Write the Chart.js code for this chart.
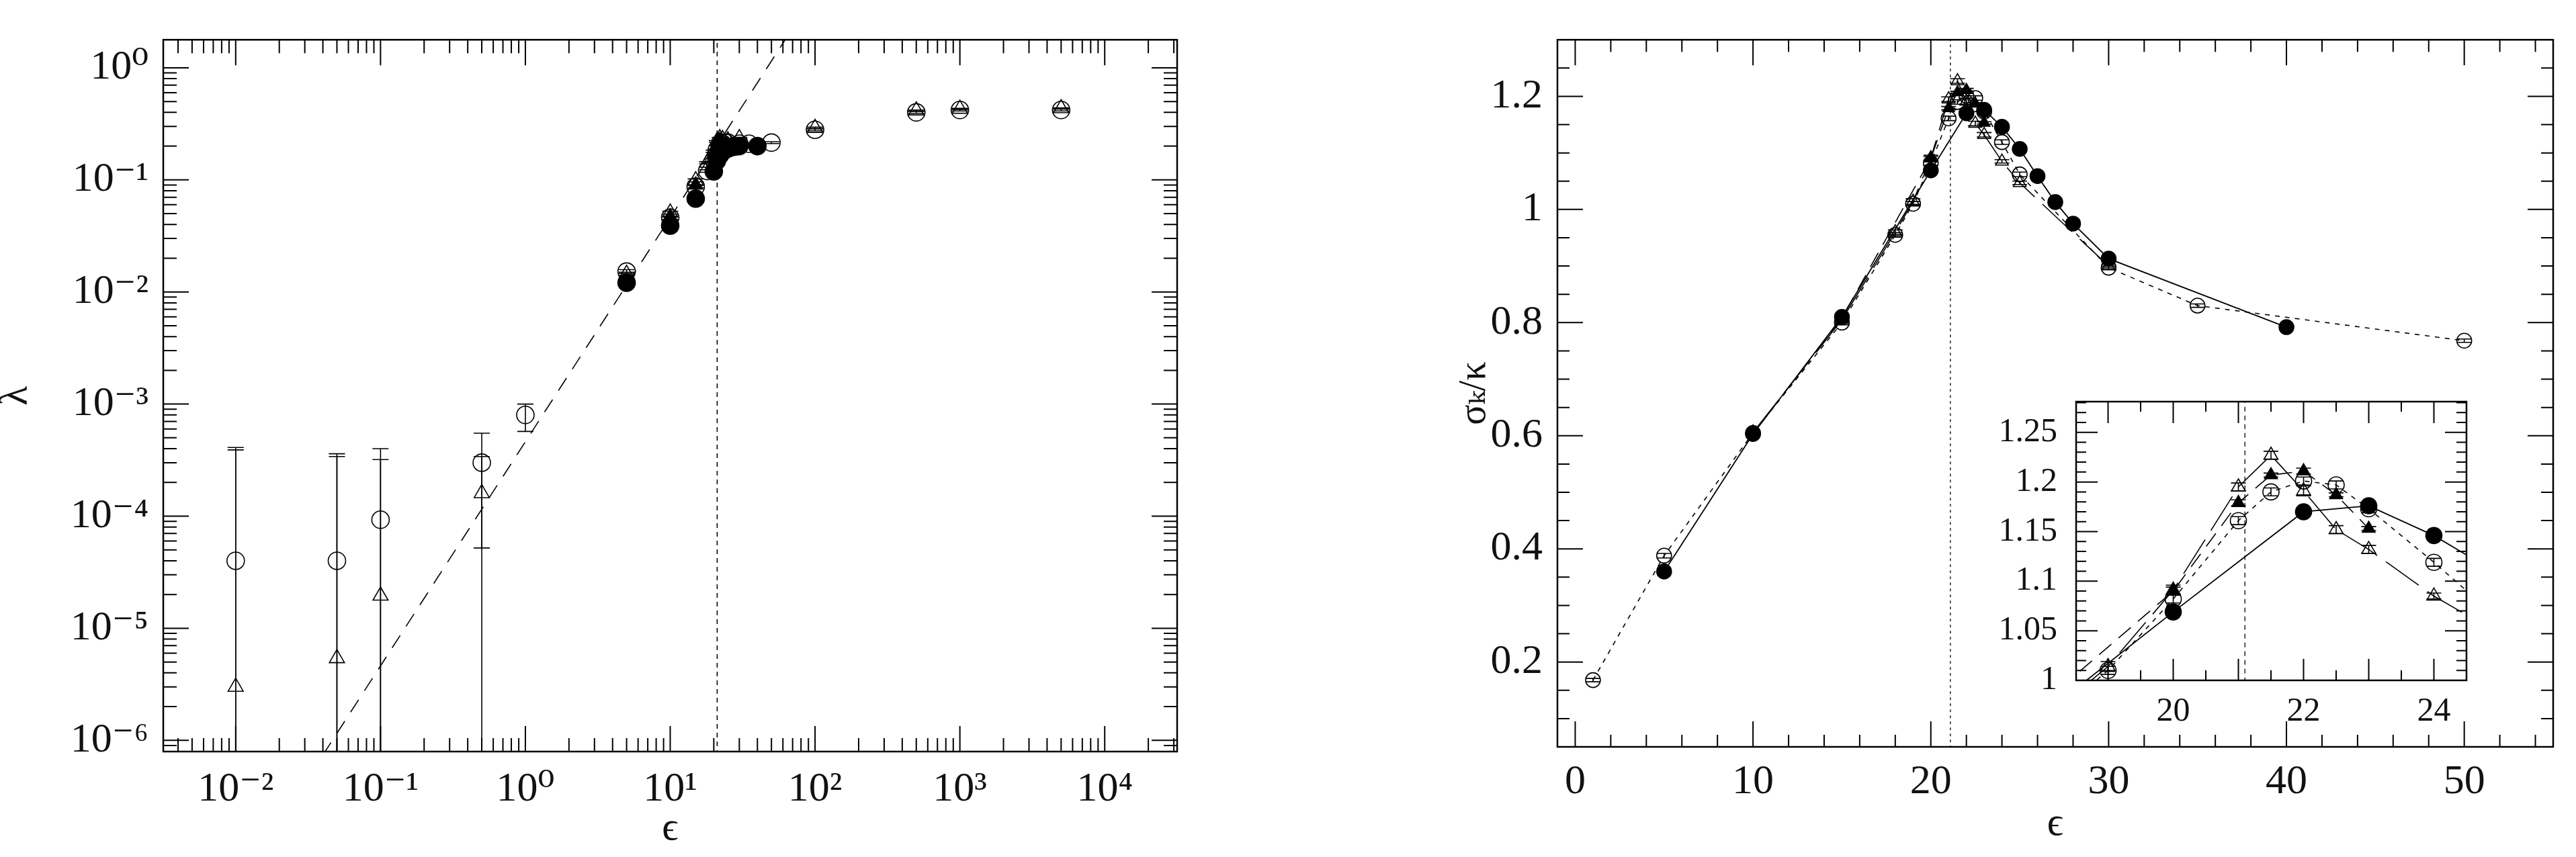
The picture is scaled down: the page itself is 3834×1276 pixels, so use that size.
<!DOCTYPE html>
<html>
<head>
<meta charset="utf-8">
<script src="https://cdn.jsdelivr.net/npm/chart.js@4.4.1/dist/chart.umd.min.js"></script>
<style>
html, body { margin: 0; padding: 0; background: #fff; }
#wrap { position: relative; width: 3834px; height: 1276px; overflow: hidden; }
canvas { position: absolute; }
</style>
</head>
<body>
<div id="wrap">
  <canvas id="lam" width="1800" height="1276" style="left:0;top:0"></canvas>
  <canvas id="sig" width="1669" height="1276" style="left:2165px;top:0"></canvas>
  <canvas id="ins" width="750" height="580" style="left:2940px;top:540px"></canvas>
</div>
<script>
// ---- left panel: lambda vs epsilon (log-log) ----
var lamCircEps = [0.01, 0.05, 0.1, 0.5, 1, 5, 10, 15, 18, 20, 21, 22, 23, 24, 25, 30, 35, 50, 100, 500, 1000, 5000];
var lamCircVal = [4.0e-5, 4.0e-5, 9.3e-5, 3.0e-4, 8.0e-4, 0.0152, 0.046, 0.087, 0.12, 0.15, 0.185, 0.2, 0.21, 0.215, 0.215, 0.21, 0.21, 0.215, 0.28, 0.40, 0.42, 0.42];
var lamCircLo  = [1e-9, 1e-9, 1e-9, 5.2e-5, 5.7e-4, 0.0146, 0.0445, 0.085, 0.117, 0.147, 0.181, 0.196, 0.206, 0.211, 0.211, 0.206, 0.206, 0.211, 0.274, 0.392, 0.412, 0.412];
var lamCircHi  = [4.1e-4, 3.6e-4, 4.0e-4, 5.5e-4, 1.0e-3, 0.0158, 0.0475, 0.089, 0.123, 0.153, 0.189, 0.204, 0.214, 0.219, 0.219, 0.214, 0.214, 0.219, 0.286, 0.408, 0.428, 0.428];

var lamTriEps = [0.01, 0.05, 0.1, 0.5, 5, 10, 15, 18, 20, 21, 22, 23, 25, 30, 100, 500, 1000, 5000];
var lamTriVal = [3.0e-6, 5.4e-6, 1.95e-5, 1.6e-4, 0.0145, 0.051, 0.099, 0.142, 0.18, 0.22, 0.235, 0.23, 0.225, 0.235, 0.29, 0.415, 0.43, 0.435];
var lamTriLo  = [1e-9, 1e-9, 1e-9, 1e-9, 0.014, 0.0495, 0.096, 0.139, 0.176, 0.216, 0.231, 0.226, 0.221, 0.231, 0.285, 0.41, 0.425, 0.43];
var lamTriHi  = [3.9e-4, 3.4e-4, 3.2e-4, 3.4e-4, 0.015, 0.0525, 0.102, 0.145, 0.184, 0.224, 0.239, 0.234, 0.229, 0.239, 0.295, 0.42, 0.435, 0.44];

var lamDotEps = [5, 10, 15, 20, 21, 22, 23, 24, 25, 26, 27, 28, 30, 40];
var lamDotVal = [0.0121, 0.039, 0.068, 0.119, 0.148, 0.165, 0.178, 0.186, 0.19, 0.195, 0.197, 0.198, 0.2, 0.2];

var lamFtriEps = [10, 15, 20, 21, 21.5, 22, 22.5, 23];
var lamFtriVal = [0.047, 0.09, 0.17, 0.2, 0.22, 0.225, 0.22, 0.215];

var fitEps = [0.04, 80];
var fitLam = [7.4e-7, 2.94];
var epsCrit = 21.1;

var logXTicks = [1e-2, 1e-1, 1, 10, 100, 1000, 10000];
var logYTicks = [1e-6, 1e-5, 1e-4, 1e-3, 1e-2, 1e-1, 1];

// ---- right panel: sigma_k / kappa vs epsilon ----
var sigCircEps = [1, 5, 10, 15, 18, 19, 20, 21, 21.5, 22, 22.5, 23, 24, 25, 30, 35, 50];
var sigCircVal = [0.168, 0.388, 0.605, 0.800, 0.955, 1.010, 1.082, 1.161, 1.190, 1.201, 1.197, 1.173, 1.119, 1.062, 0.897, 0.830, 0.768];
var sigCircErr = [0.003, 0.004, 0.003, 0.004, 0.004, 0.004, 0.004, 0.004, 0.004, 0.004, 0.004, 0.004, 0.004, 0.004, 0.003, 0.003, 0.003];

var sigDotEps = [5, 10, 15, 20, 22, 23, 24, 25, 26, 27, 28, 30, 40];
var sigDotVal = [0.360, 0.603, 0.810, 1.069, 1.170, 1.176, 1.146, 1.107, 1.059, 1.013, 0.975, 0.913, 0.792];

var sigTriEps = [10, 15, 18, 19, 20, 21, 21.5, 22, 22.5, 23, 24, 25, 30];
var sigTriVal = [0.606, 0.805, 0.960, 1.014, 1.091, 1.195, 1.227, 1.191, 1.152, 1.132, 1.085, 1.047, 0.900];
var sigTriErr = [0.003, 0.004, 0.004, 0.005, 0.005, 0.004, 0.004, 0.005, 0.004, 0.004, 0.003, 0.003, 0.003];

var sigFtriEps = [10, 15, 20, 21, 21.5, 22, 22.5, 23];
var sigFtriVal = [0.604, 0.808, 1.090, 1.179, 1.207, 1.211, 1.187, 1.153];
var sigFtriErr = [0.003, 0.004, 0.004, 0.003, 0.002, 0.003, 0.002, 0.002];

var linXTicks = [0, 10, 20, 30, 40, 50];
var linYTicks = [0.2, 0.4, 0.6, 0.8, 1, 1.2];
var insXTicks = [20, 22, 24];
var insYTicks = [1, 1.05, 1.1, 1.15, 1.2, 1.25];

Chart.defaults.font.family = '"Liberation Serif", "DejaVu Serif", serif';
Chart.defaults.color = '#111';

function pts(xs, ys) {
    return xs.map(function (x, i) { return {x: x, y: ys[i]}; });
}

var sup = {'-': '\u207B', '0': '\u2070', '1': '\u00B9', '2': '\u00B2', '3': '\u00B3',
    '4': '\u2074', '5': '\u2075', '6': '\u2076', '7': '\u2077', '8': '\u2078', '9': '\u2079'};
function powLabel(v) {
    var e = String(Math.round(Math.log10(v)));
    return '10' + e.split('').map(function (c) { return sup[c]; }).join('');
}

function logMinor(lo, hi) {
    var out = [];
    for (var d = Math.floor(Math.log10(lo)); d <= Math.ceil(Math.log10(hi)); d++) {
        for (var m = 2; m <= 9; m++) out.push(m * Math.pow(10, d));
    }
    return out;
}
function steps(lo, hi, step) {
    var out = [];
    for (var i = Math.ceil(lo / step - 1e-6); i * step <= hi + 1e-9; i++) out.push(+(i * step).toFixed(6));
    return out;
}

// frame with inward ticks on all four sides
var framePlugin = {
    id: 'frame',
    afterDraw: function (chart, args, o) {
        var ctx = chart.ctx, a = chart.chartArea, xs = chart.scales.x, ys = chart.scales.y;
        ctx.save();
        ctx.strokeStyle = '#000';
        ctx.lineWidth = 2;
        ctx.beginPath();
        function xt(list, len) {
            list.forEach(function (v) {
                var p = xs.getPixelForValue(v);
                if (p < a.left + 1 || p > a.right - 1) return;
                ctx.moveTo(p, a.bottom); ctx.lineTo(p, a.bottom - len);
                ctx.moveTo(p, a.top); ctx.lineTo(p, a.top + len);
            });
        }
        function yt(list, len) {
            list.forEach(function (v) {
                var p = ys.getPixelForValue(v);
                if (p < a.top + 1 || p > a.bottom - 1) return;
                ctx.moveTo(a.left, p); ctx.lineTo(a.left + len, p);
                ctx.moveTo(a.right, p); ctx.lineTo(a.right - len, p);
            });
        }
        xt(o.xMinor, o.minLen); xt(o.xMajor, o.majLen);
        yt(o.yMinor, o.minLen); yt(o.yMajor, o.majLen);
        ctx.stroke();
        ctx.lineWidth = 2.5;
        ctx.strokeRect(a.left, a.top, a.right - a.left, a.bottom - a.top);
        ctx.restore();
    }
};

// vertical error bars with caps
var errPlugin = {
    id: 'errbars',
    afterDatasetsDraw: function (chart) {
        var ctx = chart.ctx, a = chart.chartArea, xs = chart.scales.x, ys = chart.scales.y;
        ctx.save();
        ctx.beginPath();
        ctx.rect(a.left, a.top, a.right - a.left, a.bottom - a.top);
        ctx.clip();
        ctx.strokeStyle = '#000';
        ctx.lineWidth = 1.6;
        chart.data.datasets.forEach(function (ds) {
            if (!ds.errLo) return;
            var w = ds.capW || 11;
            ctx.beginPath();
            ds.data.forEach(function (p, j) {
                var px = xs.getPixelForValue(p.x);
                var y1 = ys.getPixelForValue(ds.errLo[j]), y2 = ys.getPixelForValue(ds.errHi[j]);
                ctx.moveTo(px, y1); ctx.lineTo(px, y2);
                ctx.moveTo(px - w, y1); ctx.lineTo(px + w, y1);
                ctx.moveTo(px - w, y2); ctx.lineTo(px + w, y2);
            });
            ctx.stroke();
        });
        ctx.restore();
    }
};

function marker(style, filled, r) {
    return {
        pointStyle: style, pointRadius: r, pointHoverRadius: r,
        pointBorderColor: '#000', pointBorderWidth: 1.6,
        pointBackgroundColor: filled ? '#000' : 'rgba(0,0,0,0)'
    };
}
function withErr(ds, vals, errs, capW) {
    ds.errLo = vals.map(function (v, i) { return v - errs[i]; });
    ds.errHi = vals.map(function (v, i) { return v + errs[i]; });
    ds.capW = capW;
    return ds;
}
function fixed(w) { return function (s) { s.width = w; }; }
function fixedH(h) { return function (s) { s.height = h; }; }

// ---------- left chart ----------
var lamSets = [
    Object.assign({data: pts(lamDotEps, lamDotVal), showLine: false}, marker('circle', true, 13)),
    Object.assign({data: pts(lamFtriEps, lamFtriVal), showLine: false}, marker('triangle', true, 12)),
    Object.assign({data: pts(lamTriEps, lamTriVal), showLine: false, errLo: lamTriLo, errHi: lamTriHi, capW: 12}, marker('triangle', false, 13)),
    Object.assign({data: pts(lamCircEps, lamCircVal), showLine: false, errLo: lamCircLo, errHi: lamCircHi, capW: 12}, marker('circle', false, 13)),
    {data: pts(fitEps, fitLam), showLine: true, pointRadius: 0, borderColor: '#000', borderWidth: 1.6, borderDash: [22, 16]},
    {data: [{x: epsCrit, y: 1e-8}, {x: epsCrit, y: 10}], showLine: true, pointRadius: 0, borderColor: '#000', borderWidth: 1.6, borderDash: [7, 6]}
];

new Chart(document.getElementById('lam'), {
    type: 'scatter',
    data: {datasets: lamSets},
    plugins: [errPlugin, framePlugin],
    options: {
        responsive: false,
        animation: false,
        events: [],
        layout: {padding: {top: 33, right: 48, left: 0, bottom: 0}},
        plugins: {
            legend: {display: false},
            tooltip: {enabled: false},
            frame: {
                xMajor: logXTicks, xMinor: logMinor(1e-3, 1e5),
                yMajor: logYTicks, yMinor: logMinor(1e-7, 10),
                majLen: 38, minLen: 20
            }
        },
        scales: {
            x: {
                type: 'logarithmic', min: Math.pow(10, -2.5), max: Math.pow(10, 4.5),
                grid: {display: false, drawTicks: false}, border: {display: false},
                afterBuildTicks: function (s) { s.ticks = logXTicks.map(function (v) { return {value: v}; }); },
                afterFit: fixedH(157),
                ticks: {font: {size: 62}, padding: 20, maxRotation: 0, callback: powLabel},
                title: {display: true, text: '\u03F5', font: {size: 60, lineHeight: 1}, padding: {top: 0, bottom: 12}}
            },
            y: {
                type: 'logarithmic', min: Math.pow(10, -6.1), max: Math.pow(10, 0.25),
                grid: {display: false, drawTicks: false}, border: {display: false},
                afterBuildTicks: function (s) { s.ticks = logYTicks.map(function (v) { return {value: v}; }); },
                afterFit: fixed(243),
                ticks: {font: {size: 62}, padding: 22, callback: powLabel},
                title: {display: true, text: '\u03BB', font: {size: 60, lineHeight: 1}, padding: {top: -6, bottom: 0}}
            }
        }
    }
});

// ---------- right chart + inset ----------
function sigSets(big) {
    var r = big ? 11 : 12;
    return [
        withErr(Object.assign({data: pts(sigFtriEps, sigFtriVal), showLine: true, borderColor: '#000', borderWidth: 1.6, borderDash: [24, 14]}, marker('triangle', true, r - 1)), sigFtriVal, sigFtriErr, 11),
        withErr(Object.assign({data: pts(sigTriEps, sigTriVal), showLine: true, borderColor: '#000', borderWidth: 1.6, borderDash: [60, 16]}, marker('triangle', false, r)), sigTriVal, sigTriErr, 11),
        withErr(Object.assign({data: pts(sigCircEps, sigCircVal), showLine: true, borderColor: '#000', borderWidth: 1.6, borderDash: [7, 8]}, marker('circle', false, r)), sigCircVal, sigCircErr, 11),
        Object.assign({data: pts(sigDotEps, sigDotVal), showLine: true, borderColor: '#000', borderWidth: 1.8}, marker('circle', true, r)),
        {data: [{x: epsCrit, y: -1}, {x: epsCrit, y: 2}], showLine: true, pointRadius: 0, borderColor: '#000', borderWidth: 1.3, borderDash: big ? [4, 5] : [7, 6]}
    ];
}

new Chart(document.getElementById('sig'), {
    type: 'scatter',
    data: {datasets: sigSets(true)},
    plugins: [errPlugin, framePlugin],
    options: {
        responsive: false,
        animation: false,
        events: [],
        layout: {padding: {top: 43, right: 34, left: 0, bottom: 0}},
        plugins: {
            legend: {display: false},
            tooltip: {enabled: false},
            frame: {
                xMajor: linXTicks, xMinor: steps(-1, 55, 2),
                yMajor: linYTicks, yMinor: steps(0.05, 1.3, 0.05),
                majLen: 38, minLen: 18
            }
        },
        scales: {
            x: {
                type: 'linear', min: -1, max: 55,
                grid: {display: false, drawTicks: false}, border: {display: false},
                afterBuildTicks: function (s) { s.ticks = linXTicks.map(function (v) { return {value: v}; }); },
                afterFit: fixedH(164),
                ticks: {font: {size: 62}, padding: 16, maxRotation: 0, callback: function (v) { return String(v); }},
                title: {display: true, text: '\u03F5', font: {size: 60, lineHeight: 1}, padding: {top: 0, bottom: 19}}
            },
            y: {
                type: 'linear', min: 0.05, max: 1.3,
                grid: {display: false, drawTicks: false}, border: {display: false},
                afterBuildTicks: function (s) { s.ticks = linYTicks.map(function (v) { return {value: v}; }); },
                afterFit: fixed(153),
                ticks: {font: {size: 62}, padding: 22, callback: function (v) { return String(+v.toFixed(2)); }},
                title: {display: true, text: '\u03C3\u2096/\u03BA', font: {size: 56, lineHeight: 1}, padding: {top: 2, bottom: 0}}
            }
        }
    }
});

new Chart(document.getElementById('ins'), {
    type: 'scatter',
    data: {datasets: sigSets(false)},
    plugins: [errPlugin, framePlugin],
    options: {
        responsive: false,
        animation: false,
        events: [],
        layout: {padding: {top: 22, right: 19, left: 0, bottom: 0}},
        plugins: {
            legend: {display: false},
            tooltip: {enabled: false},
            frame: {
                xMajor: steps(18.5, 24.5, 1), xMinor: steps(18.5, 24.5, 0.5),
                yMajor: insYTicks, yMinor: steps(1, 1.28, 0.01),
                majLen: 32, minLen: 15
            }
        },
        scales: {
            x: {
                type: 'linear', min: 18.51, max: 24.5,
                grid: {display: false, drawTicks: false}, border: {display: false},
                afterBuildTicks: function (s) { s.ticks = insXTicks.map(function (v) { return {value: v}; }); },
                afterFit: fixedH(107),
                ticks: {font: {size: 50}, padding: 17, maxRotation: 0, callback: function (v) { return String(v); }}
            },
            y: {
                type: 'linear', min: 1.0, max: 1.281,
                grid: {display: false, drawTicks: false}, border: {display: false},
                afterBuildTicks: function (s) { s.ticks = insYTicks.map(function (v) { return {value: v}; }); },
                afterFit: fixed(150),
                ticks: {font: {size: 50}, padding: 28, callback: function (v) { return String(+v.toFixed(2)); }}
            }
        }
    }
});
</script>
</body>
</html>
